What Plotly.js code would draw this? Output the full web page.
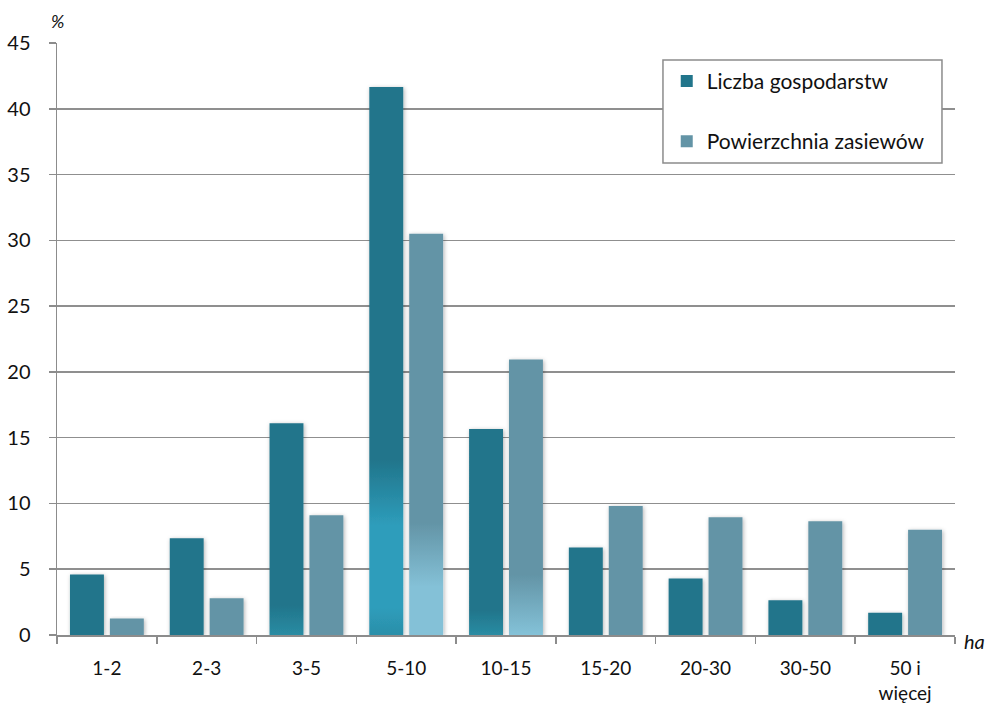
<!DOCTYPE html>
<html>
<head>
<meta charset="utf-8">
<script src="https://cdn.plot.ly/plotly-3.0.1.min.js"></script>
<style>
  html, body { margin: 0; padding: 0; background: #fff; }
  #chart { width: 986px; height: 707px; }
</style>
</head>
<body>
<div id="chart"></div>
<script>
// ---- data ----
const categories = ['1-2', '2-3', '3-5', '5-10', '10-15', '15-20', '20-30', '30-50', '50 i<br>więcej'];
const liczbaGospodarstw = [4.6, 7.35, 16.1, 41.65, 15.65, 6.65, 4.3, 2.65, 1.7];
const powierzchniaZasiewow = [1.25, 2.8, 9.1, 30.5, 20.95, 9.8, 8.95, 8.65, 8.0];
const seriesNames = ['Liczba gospodarstw', 'Powierzchnia zasiewów'];
const yTicks = [0, 5, 10, 15, 20, 25, 30, 35, 40, 45];

const DARK = '#21758B';
const LIGHT = '#6394A6';
const FONT = 'Lato, "Open Sans", sans-serif';

const traces = [
  { type: 'bar', name: seriesNames[0], x: categories, y: liczbaGospodarstw,
    marker: { color: DARK, line: { width: 0 } }, legendgroup: 'a', hoverinfo: 'none' },
  { type: 'bar', name: seriesNames[1], x: categories, y: powierzchniaZasiewow,
    marker: { color: LIGHT, line: { width: 0 } }, legendgroup: 'b', hoverinfo: 'none' }
];

const layout = {
  width: 986, height: 707,
  margin: { l: 57, r: 31, t: 43, b: 72 },
  paper_bgcolor: '#fff', plot_bgcolor: '#fff',
  font: { family: FONT, size: 19, color: '#000' },
  barmode: 'group', bargap: 0.2, bargroupgap: 0.15,
  showlegend: true,
  legend: {
    x: 0.679, y: 0.97, xanchor: 'left', yanchor: 'top',
    bgcolor: 'rgba(0,0,0,0)', borderwidth: 0,
    font: { family: FONT, size: 21, color: '#111' },
    tracegroupgap: 30, itemwidth: 30
  },
  shapes: [
    { type: 'rect', xref: 'paper', yref: 'paper', x0: 0.6748, x1: 0.9855, y0: 0.7973, y1: 0.9713,
      fillcolor: '#fff', line: { color: '#8c8c8c', width: 1.5 }, layer: 'above' }
  ],
  xaxis: {
    type: 'category', showgrid: false, showline: true, linecolor: '#8c8c8c', linewidth: 1.5,
    ticks: 'outside', tickson: 'boundaries', ticklen: 7, tickcolor: '#8c8c8c', tickwidth: 1.5,
    tickfont: { family: FONT, size: 19, color: '#111' }, ticklabelstandoff: 16,
    fixedrange: true
  },
  yaxis: {
    range: [0, 45], tickvals: yTicks, ticktext: yTicks.map(String),
    showgrid: true, gridcolor: '#8f8f8f', gridwidth: 1.5,
    showline: true, linecolor: '#8c8c8c', linewidth: 1.5,
    ticks: 'outside', ticklen: 7, tickcolor: '#8c8c8c', tickwidth: 1.5,
    tickfont: { family: FONT, size: 20, color: '#111' }, ticklabelstandoff: 14,
    zeroline: false, fixedrange: true
  },
  annotations: [
    { text: '%', xref: 'paper', yref: 'paper', x: 0, y: 1.015, xanchor: 'center', yanchor: 'bottom',
      showarrow: false, font: { family: FONT, size: 18, color: '#111', style: 'italic' } },
    { text: 'ha', xref: 'paper', yref: 'paper', x: 1.008, y: -0.01, xanchor: 'left', yanchor: 'middle',
      showarrow: false, font: { family: FONT, size: 20, color: '#111', style: 'italic' } }
  ]
};

// per-bar gradient styling (style only)
const gradientSpecs = {
  '0-2': [[0, DARK], [0.86, DARK], [1, '#2A8CA3']],
  '0-3': [[0, DARK], [0.68, DARK], [0.80, '#2E9DBB'], [0.95, '#2E9DBB'], [1, '#2B8FA9']],
  '0-4': [[0, DARK], [0.88, DARK], [1, '#2A8CA3']],
  '1-3': [[0, LIGHT], [0.72, LIGHT], [0.88, '#84C1D7'], [1, '#84C1D7']],
  '1-4': [[0, LIGHT], [0.78, LIGHT], [1, '#84C2D8']]
};

Plotly.newPlot('chart', traces, layout, { staticPlot: true, displayModeBar: false }).then(gd => {
  const svg = gd.querySelector('.main-svg');
  const NS = 'http://www.w3.org/2000/svg';
  let defs = svg.querySelector('defs');
  if (!defs) { defs = document.createElementNS(NS, 'defs'); svg.insertBefore(defs, svg.firstChild); }
  const f = document.createElementNS(NS, 'filter');
  f.setAttribute('id', 'barShadow');
  f.setAttribute('x', '-30%'); f.setAttribute('y', '-10%');
  f.setAttribute('width', '160%'); f.setAttribute('height', '120%');
  const ds = document.createElementNS(NS, 'feDropShadow');
  ds.setAttribute('dx', '1'); ds.setAttribute('dy', '1');
  ds.setAttribute('stdDeviation', '2'); ds.setAttribute('flood-color', '#000');
  ds.setAttribute('flood-opacity', '0.3');
  f.appendChild(ds); defs.appendChild(f);

  Object.keys(gradientSpecs).forEach(k => {
    const lg = document.createElementNS(NS, 'linearGradient');
    lg.setAttribute('id', 'grad' + k);
    lg.setAttribute('x1', '0'); lg.setAttribute('y1', '0');
    lg.setAttribute('x2', '0'); lg.setAttribute('y2', '1');
    gradientSpecs[k].forEach(s => {
      const st = document.createElementNS(NS, 'stop');
      st.setAttribute('offset', s[0]); st.setAttribute('stop-color', s[1]);
      lg.appendChild(st);
    });
    defs.appendChild(lg);
  });

  const traceGroups = gd.querySelectorAll('.barlayer .trace.bars');
  traceGroups.forEach((tg, ti) => {
    tg.querySelectorAll('g.point path').forEach((p, pi) => {
      p.setAttribute('filter', 'url(#barShadow)');
      const key = ti + '-' + pi;
      if (gradientSpecs[key]) p.style.fill = 'url(#grad' + key + ')';
    });
  });
});
</script>
</body>
</html>
